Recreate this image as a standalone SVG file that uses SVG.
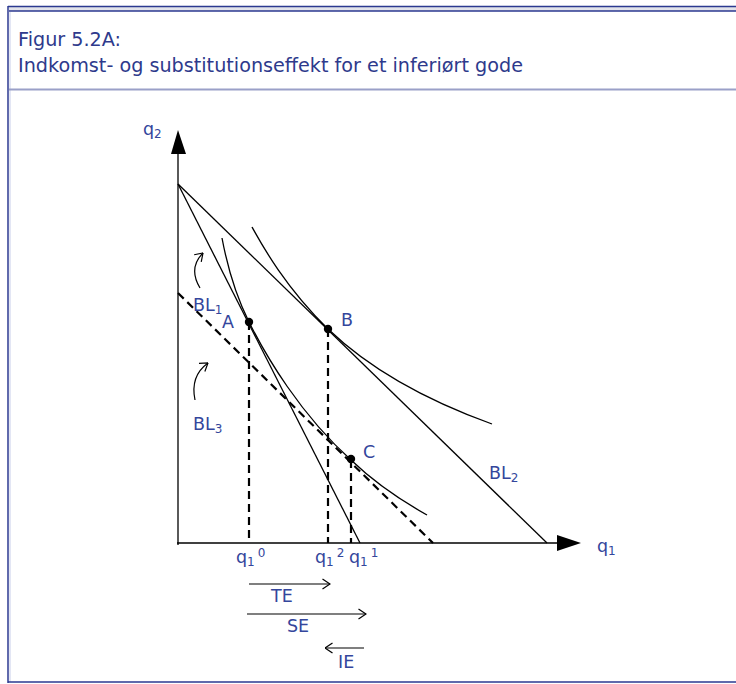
<svg xmlns="http://www.w3.org/2000/svg" width="736" height="684" viewBox="0 0 736 684">
<style>
.ln{fill:none;stroke:#000;stroke-width:1.3}
.ds{fill:none;stroke:#000;stroke-width:2.2;stroke-dasharray:8,5}
.lb{font-family:"DejaVu Sans",Verdana,sans-serif;font-size:17.5px;fill:#34469c}
.tt{font-family:"DejaVu Sans",Verdana,sans-serif;font-size:19.2px;fill:#2e3a8c}
.sb{font-size:12px}
.ar{fill:none;stroke:#000;stroke-width:1.2}
</style>
<defs>
<marker id="chev" viewBox="0 0 10 12" refX="9.5" refY="6" markerWidth="10" markerHeight="12" markerUnits="userSpaceOnUse" orient="auto">
<path d="M2,1 L9.5,6 L2,11" fill="none" stroke="#000" stroke-width="1.2"/>
</marker>
</defs>
<rect x="0" y="0" width="736" height="684" fill="#fff"/>
<g id="frame">
<rect x="9" y="7" width="727" height="4" fill="#e2e3ea"/>
<line x1="8" y1="6.5" x2="736" y2="6.5" stroke="#2b3990" stroke-width="1.5"/>
<line x1="9" y1="11" x2="736" y2="11" stroke="#2b3990" stroke-width="1.5"/>
<line x1="8" y1="6" x2="8" y2="683" stroke="#2b3990" stroke-width="1.5"/>
<rect x="9" y="12" width="2" height="670" fill="#e3e6f4"/>
<line x1="8" y1="682" x2="736" y2="682" stroke="#2b3990" stroke-width="1.5"/>
<rect x="9" y="88.5" width="727" height="2" fill="#9aa0c8"/>
<text class="tt" x="18" y="46">Figur 5.2A:</text>
<text class="tt" x="18" y="72">Indkomst- og substitutionseffekt for et inferiørt gode</text>
</g>
<g id="axes">
<line class="ln" x1="178" y1="545" x2="178" y2="150"/>
<polygon points="178,130 171,154 186,154" fill="#000"/>
<line class="ln" x1="177" y1="543" x2="560" y2="543"/>
<polygon points="581,543 557,535 557,551" fill="#000"/>
<text class="lb" x="143" y="135">q<tspan class="sb" dy="3">2</tspan></text>
<text class="lb" x="597" y="552">q<tspan class="sb" dy="3">1</tspan></text>
</g>
<g id="connectors">
<line id="BL1" class="ln" x1="178" y1="184" x2="360" y2="543"/>
<line id="BL2" class="ln" x1="178" y1="184" x2="547" y2="543"/>
<line id="BL3" class="ds" x1="178" y1="293" x2="433" y2="543"/>
<path id="U1" class="ln" d="M222,238 C228,270 238,300 249,322 C266,356 300,414 351,460 C376,484 402,501 427,515"/>
<path id="U2" class="ln" d="M252,227 C262,245 285,287 328,329 C378,377 442,406 492,424"/>
<line class="ds" x1="249" y1="322" x2="249" y2="543"/>
<line class="ds" x1="328" y1="329" x2="328" y2="543"/>
<line class="ds" x1="351" y1="460" x2="351" y2="543"/>
<path class="ar" d="M200,288 Q188,268 203,253" marker-end="url(#chev)"/>
<path class="ar" d="M195,400 Q190,376 208,363" marker-end="url(#chev)"/>
<line class="ar" x1="249" y1="584" x2="330" y2="584" marker-end="url(#chev)"/>
<line class="ar" x1="247" y1="614" x2="366" y2="614" marker-end="url(#chev)"/>
<line class="ar" x1="364" y1="648" x2="325" y2="648" marker-end="url(#chev)"/>
</g>
<g id="A"><circle cx="249" cy="322" r="4.2"/><text class="lb" x="222" y="328">A</text></g>
<g id="B"><circle cx="328" cy="329" r="4.2"/><text class="lb" x="341" y="326">B</text></g>
<g id="C"><circle cx="351" cy="459" r="4.2"/><text class="lb" x="363" y="458">C</text></g>
<g id="labels">
<text class="lb" x="193" y="311">BL<tspan class="sb" dy="3">1</tspan></text>
<text class="lb" x="489" y="479">BL<tspan class="sb" dy="3">2</tspan></text>
<text class="lb" x="193" y="430">BL<tspan class="sb" dy="3">3</tspan></text>
<text class="lb" x="236" y="563">q<tspan class="sb" dy="3">1</tspan><tspan class="sb" dx="3" dy="-9">0</tspan></text>
<text class="lb" x="315" y="563">q<tspan class="sb" dy="3">1</tspan><tspan class="sb" dx="3" dy="-9">2</tspan></text>
<text class="lb" x="349" y="563">q<tspan class="sb" dy="3">1</tspan><tspan class="sb" dx="3" dy="-9">1</tspan></text>
<text class="lb" x="271" y="602">TE</text>
<text class="lb" x="287" y="632">SE</text>
<text class="lb" x="338" y="668">IE</text>
</g>
</svg>
